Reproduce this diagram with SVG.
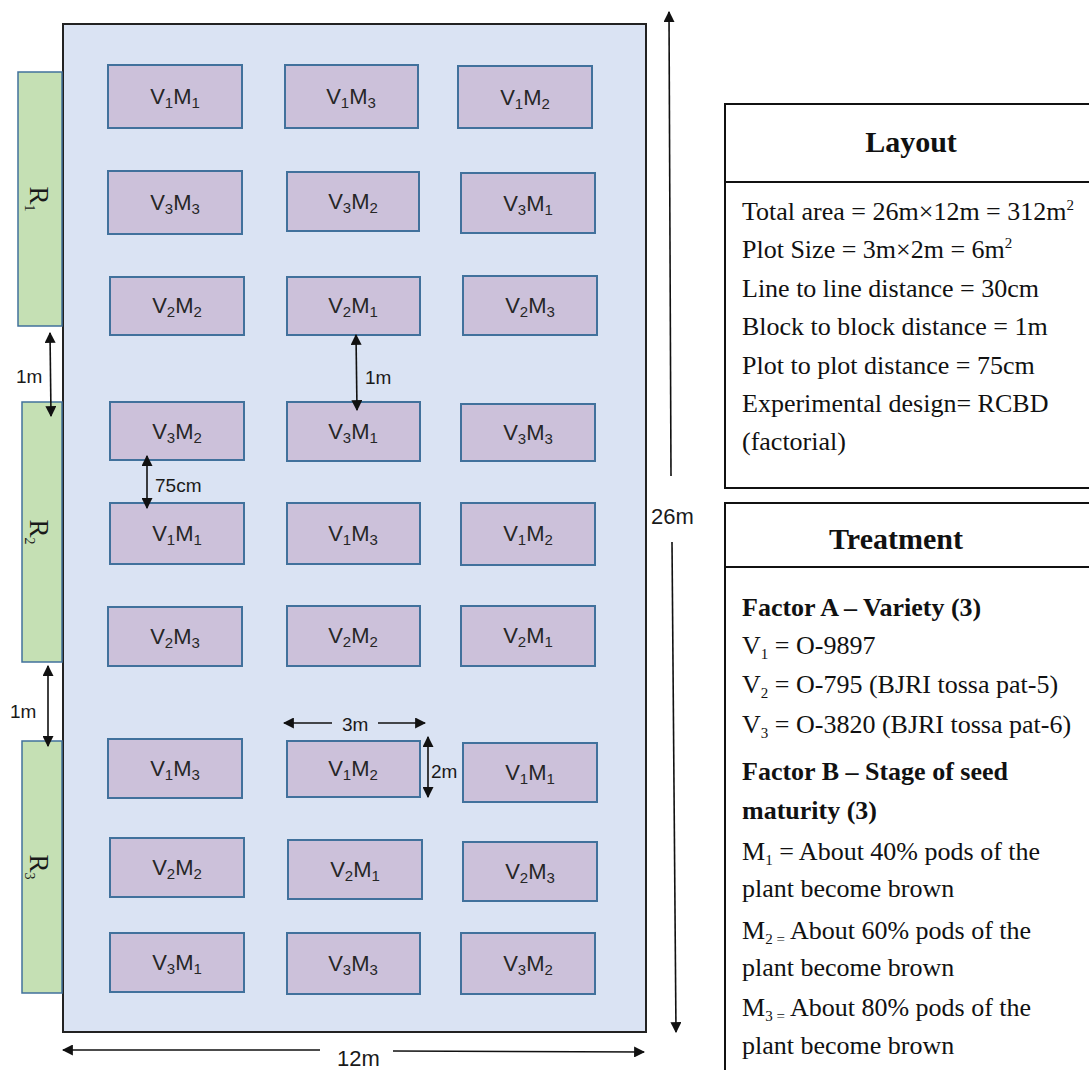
<svg xmlns="http://www.w3.org/2000/svg" width="1089" height="1070" viewBox="0 0 1089 1070">
<defs>
<style>
.field{fill:#dae3f3;stroke:#222;stroke-width:2}
.plot{fill:#ccc1da;stroke:#41719c;stroke-width:2}
.rep{fill:#c5e0b4;stroke:#41719c;stroke-width:1.5}
.pl{font-family:"Liberation Sans",Arial,sans-serif;font-size:22px;fill:#262626;text-anchor:middle}
.sb{font-size:15px}
.dim{font-family:"Liberation Sans",Arial,sans-serif;font-size:19px;fill:#1a1a1a}
.big{font-size:22px}
.rl{font-family:"Liberation Serif","Times New Roman",serif;font-size:27px;fill:#1a1a1a;text-anchor:middle}
.box{fill:#fff;stroke:#111;stroke-width:2}
.ttl{font-family:"Liberation Serif","Times New Roman",serif;font-size:30px;font-weight:bold;fill:#111;text-anchor:middle}
.bt{font-family:"Liberation Serif","Times New Roman",serif;font-size:26px;fill:#111}
.bb{font-weight:bold}
.ln{stroke:#111;stroke-width:1.6;fill:none}
</style>
<marker id="ah" viewBox="0 0 10 10" refX="9" refY="5" markerWidth="11" markerHeight="11" markerUnits="userSpaceOnUse" orient="auto-start-reverse">
<path d="M0,0 L10,5 L0,10 z" fill="#111"/>
</marker>
</defs>
<rect width="1089" height="1070" fill="#fff"/>

<g id="field">
<rect class="field" x="63" y="24" width="583" height="1008"/>
</g>

<g id="R1"><rect class="rep" x="18" y="72" width="44" height="254"/>
<text class="rl" transform="translate(30,199) rotate(90)">R<tspan dy="5" font-size="14">1</tspan></text></g>
<g id="R2"><rect class="rep" x="22" y="402" width="40" height="260"/>
<text class="rl" transform="translate(30,532) rotate(90)">R<tspan dy="5" font-size="14">2</tspan></text></g>
<g id="R3"><rect class="rep" x="22" y="741" width="40" height="252"/>
<text class="rl" transform="translate(30,867) rotate(90)">R<tspan dy="5" font-size="14">3</tspan></text></g>

<g id="plots">
<g id="p1"><rect class="plot" x="108" y="65" width="134" height="63"/><text class="pl" x="175" y="104">V<tspan class="sb" dy="4">1</tspan><tspan dy="-4">M</tspan><tspan class="sb" dy="4">1</tspan></text></g>
<g id="p2"><rect class="plot" x="285" y="65" width="133" height="63"/><text class="pl" x="351" y="104">V<tspan class="sb" dy="4">1</tspan><tspan dy="-4">M</tspan><tspan class="sb" dy="4">3</tspan></text></g>
<g id="p3"><rect class="plot" x="458" y="66" width="134" height="62"/><text class="pl" x="525" y="105">V<tspan class="sb" dy="4">1</tspan><tspan dy="-4">M</tspan><tspan class="sb" dy="4">2</tspan></text></g>

<g id="p4"><rect class="plot" x="108" y="171" width="134" height="63"/><text class="pl" x="175" y="210">V<tspan class="sb" dy="4">3</tspan><tspan dy="-4">M</tspan><tspan class="sb" dy="4">3</tspan></text></g>
<g id="p5"><rect class="plot" x="287" y="172" width="132" height="59"/><text class="pl" x="353" y="209">V<tspan class="sb" dy="4">3</tspan><tspan dy="-4">M</tspan><tspan class="sb" dy="4">2</tspan></text></g>
<g id="p6"><rect class="plot" x="461" y="173" width="134" height="60"/><text class="pl" x="528" y="211">V<tspan class="sb" dy="4">3</tspan><tspan dy="-4">M</tspan><tspan class="sb" dy="4">1</tspan></text></g>

<g id="p7"><rect class="plot" x="110" y="277" width="134" height="58"/><text class="pl" x="177" y="313">V<tspan class="sb" dy="4">2</tspan><tspan dy="-4">M</tspan><tspan class="sb" dy="4">2</tspan></text></g>
<g id="p8"><rect class="plot" x="287" y="277" width="133" height="58"/><text class="pl" x="353" y="313">V<tspan class="sb" dy="4">2</tspan><tspan dy="-4">M</tspan><tspan class="sb" dy="4">1</tspan></text></g>
<g id="p9"><rect class="plot" x="463" y="276" width="134" height="59"/><text class="pl" x="530" y="313">V<tspan class="sb" dy="4">2</tspan><tspan dy="-4">M</tspan><tspan class="sb" dy="4">3</tspan></text></g>

<g id="p10"><rect class="plot" x="110" y="402" width="134" height="58"/><text class="pl" x="177" y="439">V<tspan class="sb" dy="4">3</tspan><tspan dy="-4">M</tspan><tspan class="sb" dy="4">2</tspan></text></g>
<g id="p11"><rect class="plot" x="287" y="402" width="133" height="59"/><text class="pl" x="353" y="439">V<tspan class="sb" dy="4">3</tspan><tspan dy="-4">M</tspan><tspan class="sb" dy="4">1</tspan></text></g>
<g id="p12"><rect class="plot" x="461" y="404" width="134" height="57"/><text class="pl" x="528" y="440">V<tspan class="sb" dy="4">3</tspan><tspan dy="-4">M</tspan><tspan class="sb" dy="4">3</tspan></text></g>

<g id="p13"><rect class="plot" x="110" y="503" width="134" height="61"/><text class="pl" x="177" y="541">V<tspan class="sb" dy="4">1</tspan><tspan dy="-4">M</tspan><tspan class="sb" dy="4">1</tspan></text></g>
<g id="p14"><rect class="plot" x="287" y="503" width="133" height="61"/><text class="pl" x="353" y="541">V<tspan class="sb" dy="4">1</tspan><tspan dy="-4">M</tspan><tspan class="sb" dy="4">3</tspan></text></g>
<g id="p15"><rect class="plot" x="461" y="503" width="134" height="62"/><text class="pl" x="528" y="541">V<tspan class="sb" dy="4">1</tspan><tspan dy="-4">M</tspan><tspan class="sb" dy="4">2</tspan></text></g>

<g id="p16"><rect class="plot" x="108" y="607" width="134" height="59"/><text class="pl" x="175" y="644">V<tspan class="sb" dy="4">2</tspan><tspan dy="-4">M</tspan><tspan class="sb" dy="4">3</tspan></text></g>
<g id="p17"><rect class="plot" x="287" y="606" width="133" height="60"/><text class="pl" x="353" y="643">V<tspan class="sb" dy="4">2</tspan><tspan dy="-4">M</tspan><tspan class="sb" dy="4">2</tspan></text></g>
<g id="p18"><rect class="plot" x="461" y="606" width="134" height="60"/><text class="pl" x="528" y="643">V<tspan class="sb" dy="4">2</tspan><tspan dy="-4">M</tspan><tspan class="sb" dy="4">1</tspan></text></g>

<g id="p19"><rect class="plot" x="108" y="739" width="134" height="59"/><text class="pl" x="175" y="776">V<tspan class="sb" dy="4">1</tspan><tspan dy="-4">M</tspan><tspan class="sb" dy="4">3</tspan></text></g>
<g id="p20"><rect class="plot" x="287" y="741" width="133" height="56"/><text class="pl" x="353" y="776">V<tspan class="sb" dy="4">1</tspan><tspan dy="-4">M</tspan><tspan class="sb" dy="4">2</tspan></text></g>
<g id="p21"><rect class="plot" x="463" y="743" width="134" height="59"/><text class="pl" x="530" y="780">V<tspan class="sb" dy="4">1</tspan><tspan dy="-4">M</tspan><tspan class="sb" dy="4">1</tspan></text></g>

<g id="p22"><rect class="plot" x="110" y="838" width="134" height="59"/><text class="pl" x="177" y="875">V<tspan class="sb" dy="4">2</tspan><tspan dy="-4">M</tspan><tspan class="sb" dy="4">2</tspan></text></g>
<g id="p23"><rect class="plot" x="288" y="840" width="134" height="59"/><text class="pl" x="355" y="877">V<tspan class="sb" dy="4">2</tspan><tspan dy="-4">M</tspan><tspan class="sb" dy="4">1</tspan></text></g>
<g id="p24"><rect class="plot" x="463" y="842" width="134" height="59"/><text class="pl" x="530" y="879">V<tspan class="sb" dy="4">2</tspan><tspan dy="-4">M</tspan><tspan class="sb" dy="4">3</tspan></text></g>

<g id="p25"><rect class="plot" x="110" y="933" width="134" height="59"/><text class="pl" x="177" y="970">V<tspan class="sb" dy="4">3</tspan><tspan dy="-4">M</tspan><tspan class="sb" dy="4">1</tspan></text></g>
<g id="p26"><rect class="plot" x="287" y="933" width="133" height="61"/><text class="pl" x="353" y="971">V<tspan class="sb" dy="4">3</tspan><tspan dy="-4">M</tspan><tspan class="sb" dy="4">3</tspan></text></g>
<g id="p27"><rect class="plot" x="461" y="933" width="134" height="61"/><text class="pl" x="528" y="971">V<tspan class="sb" dy="4">3</tspan><tspan dy="-4">M</tspan><tspan class="sb" dy="4">2</tspan></text></g>
</g>

<g id="connectors">
<line class="ln" x1="671" y1="476" x2="669" y2="12" marker-end="url(#ah)"/>
<line class="ln" x1="672" y1="542" x2="676" y2="1032" marker-end="url(#ah)"/>
<line class="ln" x1="320" y1="1050" x2="63" y2="1050" marker-end="url(#ah)"/>
<line class="ln" x1="393" y1="1051" x2="644" y2="1052" marker-end="url(#ah)"/>
<line class="ln" x1="50" y1="333" x2="51" y2="416" marker-start="url(#ah)" marker-end="url(#ah)"/>
<line class="ln" x1="48" y1="666" x2="48" y2="746" marker-start="url(#ah)" marker-end="url(#ah)"/>
<line class="ln" x1="356" y1="335" x2="357" y2="410" marker-start="url(#ah)" marker-end="url(#ah)"/>
<line class="ln" x1="147" y1="456" x2="147" y2="508" marker-start="url(#ah)" marker-end="url(#ah)"/>
<line class="ln" x1="332" y1="723" x2="284" y2="723" marker-end="url(#ah)"/>
<line class="ln" x1="378" y1="723" x2="425" y2="723" marker-end="url(#ah)"/>
<line class="ln" x1="428" y1="737" x2="428" y2="797" marker-start="url(#ah)" marker-end="url(#ah)"/>
</g>

<g id="dim-labels">
<text class="dim big" x="651" y="524">26m</text>
<text class="dim big" x="337" y="1066">12m</text>
<text class="dim" x="16" y="383">1m</text>
<text class="dim" x="10" y="718">1m</text>
<text class="dim" x="365" y="384">1m</text>
<text class="dim" x="155" y="492">75cm</text>
<text class="dim" x="342" y="731">3m</text>
<text class="dim" x="431" y="778">2m</text>
</g>

<g id="layout-box">
<rect class="box" x="725" y="104" width="400" height="384"/>
<line x1="725" y1="182" x2="1100" y2="182" stroke="#111" stroke-width="2"/>
<text class="ttl" x="911" y="152">Layout</text>
<text class="bt" x="742" y="220">Total area = 26m×12m = 312m<tspan font-size="15" dy="-10">2</tspan></text>
<text class="bt" x="742" y="258">Plot Size = 3m×2m = 6m<tspan font-size="15" dy="-10">2</tspan></text>
<text class="bt" x="742" y="297">Line to line distance = 30cm</text>
<text class="bt" x="742" y="335">Block to block distance = 1m</text>
<text class="bt" x="742" y="374">Plot to plot distance = 75cm</text>
<text class="bt" x="742" y="412">Experimental design= RCBD</text>
<text class="bt" x="742" y="450">(factorial)</text>
</g>

<g id="treatment-box">
<rect class="box" x="725" y="503" width="400" height="600"/>
<line x1="725" y1="567" x2="1100" y2="567" stroke="#111" stroke-width="2"/>
<text class="ttl" x="896" y="549">Treatment</text>
<text class="bt bb" x="742" y="616">Factor A – Variety (3)</text>
<text class="bt" x="742" y="654">V<tspan font-size="15" dy="5">1</tspan><tspan dy="-5"> = O-9897</tspan></text>
<text class="bt" x="742" y="693">V<tspan font-size="15" dy="5">2</tspan><tspan dy="-5"> = O-795 (BJRI tossa pat-5)</tspan></text>
<text class="bt" x="742" y="733">V<tspan font-size="15" dy="5">3</tspan><tspan dy="-5"> = O-3820 (BJRI tossa pat-6)</tspan></text>
<text class="bt bb" x="742" y="780">Factor B – Stage of seed</text>
<text class="bt bb" x="742" y="819">maturity (3)</text>
<text class="bt" x="742" y="860">M<tspan font-size="15" dy="5">1</tspan><tspan dy="-5"> = About 40% pods of the</tspan></text>
<text class="bt" x="742" y="897">plant become brown</text>
<text class="bt" x="742" y="939">M<tspan font-size="15" dy="5">2 =</tspan><tspan dy="-5"> About 60% pods of the</tspan></text>
<text class="bt" x="742" y="976">plant become brown</text>
<text class="bt" x="742" y="1016">M<tspan font-size="15" dy="5">3 =</tspan><tspan dy="-5"> About 80% pods of the</tspan></text>
<text class="bt" x="742" y="1054">plant become brown</text>
</g>
</svg>
